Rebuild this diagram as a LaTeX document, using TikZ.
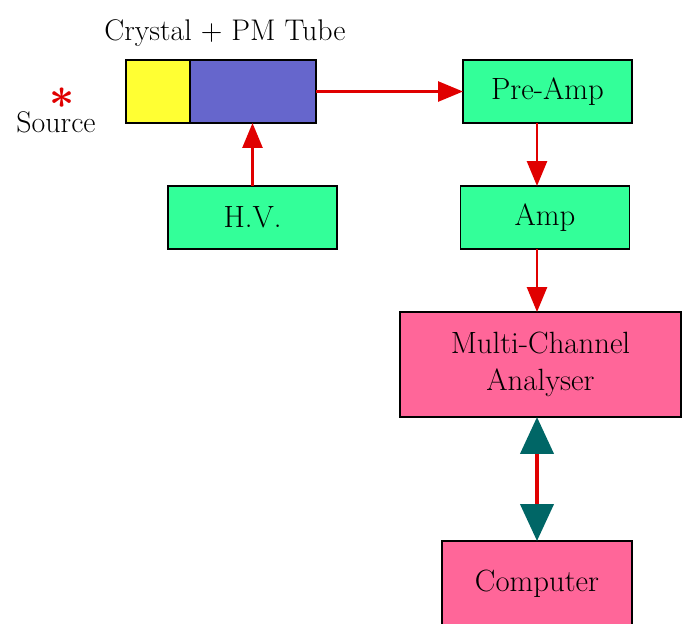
\documentclass[tikz,border=0pt]{standalone}
\usepackage{tikz}
\usepackage{bm}
\usetikzlibrary{positioning,calc,arrows.meta}
\definecolor{boxgreen}{HTML}{33FF99}
\definecolor{boxpink}{HTML}{FF6699}
\definecolor{crystalyellow}{HTML}{FFFF33}
\definecolor{tubeblue}{HTML}{6666CC}
\definecolor{sigred}{HTML}{E00000}
\definecolor{linkteal}{HTML}{006666}
\tikzset{>=stealth}
\tikzset{
  unit/.style={draw=black,line width=1pt,outer sep=0pt,inner sep=0pt,
    font=\fontsize{17.5}{21}\selectfont,align=center},
  greenunit/.style={unit,fill=boxgreen,minimum width=3.38cm,minimum height=1.26cm},
  pinkunit/.style={unit,fill=boxpink},
  sig/.style={draw=sigred,line width=1.5pt,-{Triangle[width=0.4cm,length=0.5cm]}},
  link/.style={draw=sigred,line width=2.4pt,
    {Triangle[width=0.66cm,length=0.74cm,color=linkteal]}-{Triangle[width=0.66cm,length=0.74cm,color=linkteal]}}
}

\begin{document}
\begin{tikzpicture}[x=0.02cm,y=-0.02cm]
\useasboundingbox (0,0) rectangle (683,623);
\clip (0,0) rectangle (683,623);
\coordinate (bus) at (537,0);
% detector
\node[unit,fill=crystalyellow,minimum width=1.28cm,minimum height=1.26cm] (crystal) at (158,91.5) {};
\node[unit,fill=tubeblue,minimum width=2.52cm,minimum height=1.26cm,right=0pt of crystal] (tube) {};
\node[font=\fontsize{17}{20}\selectfont] (tubelabel) at (225,33) {Crystal + PM Tube};
\node[text=sigred,font=\fontsize{30}{30}\selectfont] (star) at (62,98) {$\bm{\ast}$};
\node[font=\fontsize{17}{20}\selectfont] (source) at (56,122) {Source};
\node[greenunit] (hv) at (252.5,217.5) {H.V.};
% electronics chain
\node[greenunit] (preamp) at (547.5,91.5) {Pre-Amp};
\node[greenunit] (amp) at (545,217.5) {Amp};
\node[pinkunit,minimum width=5.62cm,minimum height=2.1cm] (mca) at (540.5,364.5) {Multi-Channel\\Analyser};
\node[pinkunit,minimum width=3.8cm,minimum height=1.72cm] (computer) at (537,584) {Computer};
% signals
\draw[sig] (hv.north) -- (hv.north |- tube.south);
\draw[sig] (tube.east) -- (preamp.west);
\draw[sig] (preamp.south -| bus) -- (amp.north -| bus);
\draw[sig] (amp.south -| bus) -- (mca.north -| bus);
\draw[link] (mca.south -| bus) -- (computer.north -| bus);
\end{tikzpicture}
\end{document}
